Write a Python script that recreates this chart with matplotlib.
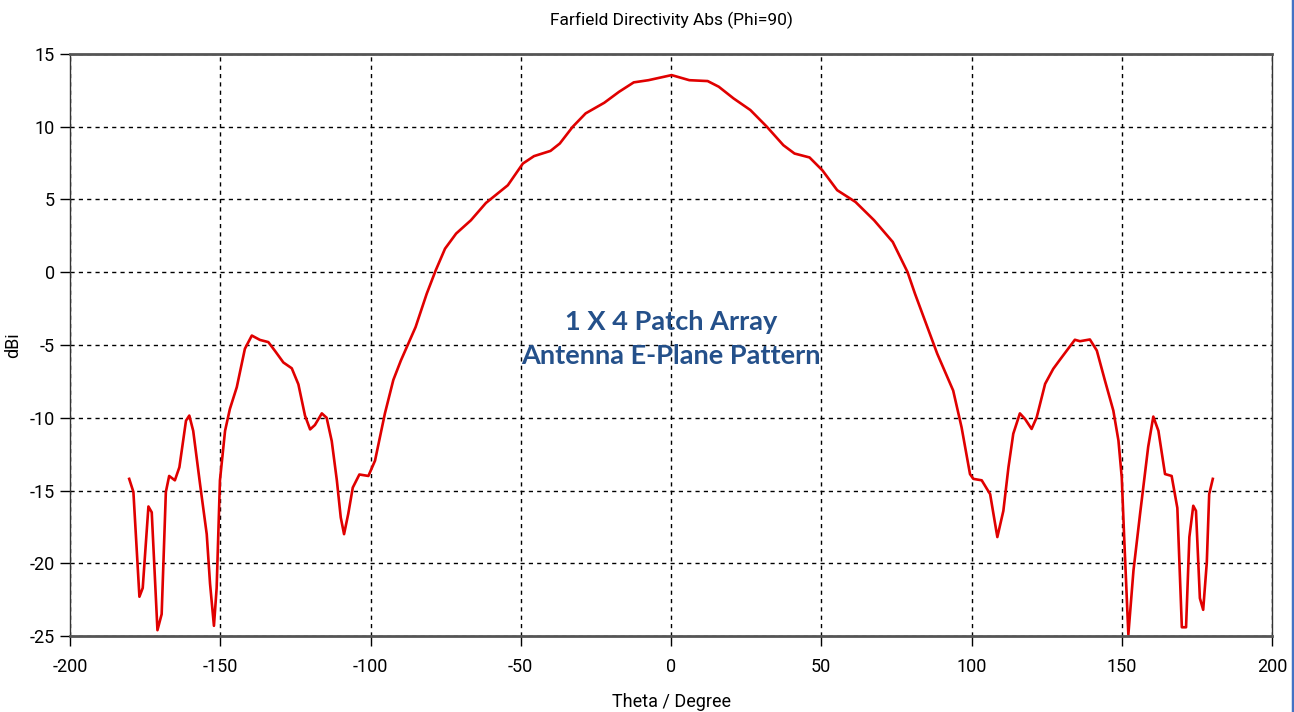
import matplotlib.pyplot as plt
from matplotlib.lines import Line2D
import numpy

# Farfield directivity, Phi=90 cut
theta = [-180.3, -178.9, -176.9, -175.8, -173.9, -172.8, -170.9, -169.5, -168.1, -167.0,
         -165.1, -163.6, -161.4, -160.3, -159.0, -156.7, -154.5, -153.4, -152.1, -151.2,
         -150.1, -148.4, -146.8, -144.5, -141.8, -139.5, -136.8, -134.0, -131.8, -129.0,
         -126.2, -124.0, -121.8, -120.1, -118.5, -116.2, -114.6, -112.9, -111.2, -109.9,
         -108.8, -107.4, -105.9, -103.7, -100.7, -98.5, -95.2, -92.4, -89.9, -85.0,
         -81.3, -78.3, -75.2, -71.5, -66.6, -61.6, -54.3, -49.3, -45.6, -40.1,
         -37.0, -32.7, -28.4, -22.2, -17.3, -12.4, -7.5, 0.2, 6.1, 12.2,
         15.9, 20.8, 26.4, 31.9, 37.4, 41.1, 46.1, 50.4, 55.3, 61.4,
         67.6, 73.8, 78.7, 81.2, 84.9, 88.6, 93.9, 96.7, 99.5, 100.6,
         103.4, 106.2, 108.6, 110.6, 112.3, 113.9, 116.1, 117.8, 120.0, 121.7,
         124.5, 127.2, 129.4, 134.4, 136.1, 139.4, 141.7, 144.4, 147.2, 148.9,
         150.0, 150.8, 152.2, 153.9, 156.1, 158.8, 160.5, 162.2, 164.4, 166.6,
         168.5, 170.0, 171.4, 172.5, 173.8, 174.7, 176.0, 177.1, 178.3, 179.1,
         180.3]
dbi = [-14.2, -15.1, -22.3, -21.7, -16.1, -16.5, -24.6, -23.5, -15.1, -14.0,
       -14.3, -13.4, -10.2, -9.85, -10.9, -14.6, -18.0, -21.4, -24.3, -21.7,
       -14.3, -10.9, -9.4, -7.9, -5.26, -4.35, -4.65, -4.8, -5.4, -6.2,
       -6.6, -7.7, -9.85, -10.8, -10.5, -9.7, -10.0, -11.6, -14.3, -16.85,
       -18.0, -16.6, -14.8, -13.9, -14.0, -12.95, -9.7, -7.4, -6.07, -3.77,
       -1.48, 0.13, 1.62, 2.66, 3.57, 4.76, 5.98, 7.47, 7.98, 8.34,
       8.85, 10.0, 10.92, 11.65, 12.4, 13.05, 13.2, 13.55, 13.2, 13.14,
       12.75, 11.95, 11.15, 10.0, 8.73, 8.16, 7.89, 7.0, 5.64, 4.83,
       3.57, 2.08, 0.02, -1.48, -3.54, -5.6, -8.13, -10.66, -13.87, -14.2,
       -14.3, -15.25, -18.2, -16.4, -13.4, -11.1, -9.7, -10.08, -10.77, -9.97,
       -7.67, -6.64, -6.02, -4.64, -4.74, -4.62, -5.38, -7.44, -9.51, -11.57,
       -14.1, -18.2, -24.9, -20.5, -16.6, -12.0, -9.92, -10.9, -13.87, -14.0,
       -16.2, -24.4, -24.4, -18.2, -16.05, -16.4, -22.4, -23.2, -19.95, -15.25,
       -14.2]

x_ticks = numpy.arange(-200, 201, 50)
y_ticks = numpy.arange(-25, 16, 5)

plt.rcParams['font.family'] = ['Roboto', 'DejaVu Sans']
plt.rcParams['axes.unicode_minus'] = False

fig = plt.figure(figsize=(12.94, 7.12), dpi=100)
ax = fig.add_axes([70 / 1294, 76 / 712, 1202 / 1294, 582 / 712])

ax.plot(theta, dbi, color='#e00000', linewidth=1.9)

ax.set_xlim(-200, 200)
ax.set_ylim(-25, 15)
ax.set_xticks(x_ticks)
ax.set_yticks(y_ticks)
ax.tick_params(labelsize=13, length=7, width=1, colors='black')
ax.tick_params(axis='x', pad=9)
ax.tick_params(axis='y', pad=4)
ax.grid(True, color='black', linestyle=(0, (3, 3)), linewidth=1)

for side in ['top', 'bottom']:
    ax.spines[side].set_color('#555555')
    ax.spines[side].set_linewidth(2)
for side in ['left', 'right']:
    ax.spines[side].set_color('#333333')
    ax.spines[side].set_linewidth(1)

ax.set_title('Farfield Directivity Abs (Phi=90)', fontsize=12.5, pad=21)
ax.set_xlabel('Theta / Degree', fontsize=13, labelpad=12)
ax.set_ylabel('dBi', fontsize=13, labelpad=5)

ax.text(0, -4.6, '1 X 4 Patch Array\nAntenna E-Plane Pattern', ha='center', va='center',
        fontsize=19.5, fontweight='bold', color='#24508a', family=['Lato', 'DejaVu Sans'],
        linespacing=1.5)

# blue frame edge on the right
fig.add_artist(Line2D([1292.5 / 1294, 1292.5 / 1294], [0, 1], color='#4472c4', linewidth=2.5))

fig.savefig('out.png', dpi=100)
